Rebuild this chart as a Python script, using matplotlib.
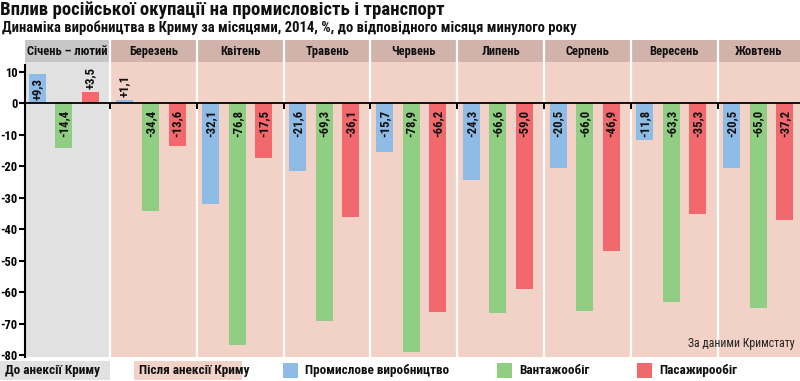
import matplotlib
matplotlib.use("Agg")
import matplotlib.pyplot as plt
from matplotlib import font_manager as fm
from matplotlib.patches import Rectangle

# ---------------- data ----------------
months = ["Січень – лютий", "Березень", "Квітень", "Травень", "Червень",
          "Липень", "Серпень", "Вересень", "Жовтень"]
industry = [9.3, 1.1, -32.1, -21.6, -15.7, -24.3, -20.5, -11.8, -20.5]
freight = [-14.4, -34.4, -76.8, -69.3, -78.9, -66.6, -66.0, -63.3, -65.0]
passenger = [3.5, -13.6, -17.5, -36.1, -66.2, -59.0, -46.9, -35.3, -37.2]
series_names = ["Промислове виробництво", "Вантажообіг", "Пасажирообіг"]
yticks = [10, 0, -10, -20, -30, -40, -50, -60, -70, -80]
title = "Вплив російської окупації на промисловість і транспорт"
subtitle = "Динаміка виробництва в Криму за місяцями, 2014, %, до відповідного місяця минулого року"
period_labels = ["До анексії Криму", "Після анексії Криму"]
source = "За даними Кримстату"

# ---------------- style ----------------
names = {f.name for f in fm.fontManager.ttflist}
FONT = "DejaVu Sans"
for cand in ["Liberation Sans Narrow", "Roboto Condensed", "Open Sans Condensed", "DejaVu Sans"]:
    if cand in names:
        FONT = cand
        break
plt.rcParams["font.family"] = [FONT, "DejaVu Sans"]

C_BLUE = "#8fbce6"
C_GREEN = "#90cf83"
C_RED = "#f1696c"
C_GREY_BODY = "#e1e1e1"
C_GREY_HEAD = "#c6c6c6"
C_PINK_BODY = "#f2d1c6"
C_PINK_HEAD = "#d1b3ab"
colors = [C_BLUE, C_GREEN, C_RED]

fig = plt.figure(figsize=(8, 3.81), dpi=100)
W, H = 800, 381

def fx(px):
    return px / W

def fy(py):
    return 1 - py / H

ax = fig.add_axes([fx(25), fy(357), fx(775), 317 / H])
ymin, ymax = -80.6, 20
head_lo = 13.0
n = len(months)
x0 = 0.0207
ax.set_xlim(x0, x0 + 775 / 86.8)
ax.set_ylim(ymin, ymax)

# panels
for i in range(n):
    body = C_GREY_BODY if i == 0 else C_PINK_BODY
    head = C_GREY_HEAD if i == 0 else C_PINK_HEAD
    ax.add_patch(Rectangle((i, ymin), 1, head_lo - ymin, color=body, lw=0, zorder=0))
    ax.add_patch(Rectangle((i, head_lo), 1, ymax - head_lo, color=head, lw=0, zorder=0))
    cx = (max(i, x0) + min(i + 1, x0 + 775 / 86.8)) / 2
    ax.text(cx, (head_lo + ymax) / 2, months[i], ha="center", va="center",
            fontsize=9, fontweight="bold", color="#111111", zorder=3)
for b in range(1, n):
    ax.axvline(b, color="white", lw=1.6, zorder=1)

# bars
offsets = [0.163, 0.468, 0.772]
width = 0.196
for s, vals in enumerate([industry, freight, passenger]):
    xs = [i + offsets[s] for i in range(n)]
    ax.bar(xs, vals, width=width, color=colors[s], zorder=2)
    for x, v in zip(xs, vals):
        lab = ("+" if v > 0 else "") + f"{v:.1f}".replace(".", ",")
        if v < 0:
            ax.text(x, -2.2, lab, rotation=90, ha="center", va="top",
                    fontsize=9.2, fontweight="bold", color="#111111", zorder=3)
        elif v >= 9:
            ax.text(x, 1.0, lab, rotation=90, ha="center", va="bottom",
                    fontsize=9.2, fontweight="bold", color="#111111", zorder=3)
        else:
            ax.text(x, v + 0.8, lab, rotation=90, ha="center", va="bottom",
                    fontsize=9.2, fontweight="bold", color="#111111", zorder=3)

# axes styling
for sp in ["top", "right"]:
    ax.spines[sp].set_visible(False)
ax.spines["bottom"].set_position(("data", 0))
ax.spines["bottom"].set_linewidth(1.3)
ax.spines["bottom"].set_zorder(4)
ax.spines["left"].set_linewidth(1.5)
ax.spines["left"].set_bounds(ymin, 12)
ax.set_xticks(range(1, n))
ax.set_xticklabels([])
ax.tick_params(axis="x", direction="out", length=4, width=1.4, color="black")
ax.set_yticks(yticks)
ax.set_yticklabels([str(t) for t in yticks])
ax.tick_params(axis="y", direction="out", length=4, width=1.5, pad=1.5, labelsize=9)
for t in ax.get_yticklabels():
    t.set_fontweight("bold")

ax.text(0.993, -76.2, source, ha="right", va="center", fontsize=8.5, color="#222222",
        zorder=3, transform=ax.get_yaxis_transform())

# titles
fig.text(fx(0), fy(10), title, ha="left", va="center", fontsize=13.5, fontweight="bold", color="#111111")
fig.text(fx(2), fy(28), subtitle, ha="left", va="center", fontsize=10.5, fontweight="bold", color="#111111")

# legend row
fig.patches.append(Rectangle((fx(0), fy(380)), fx(110), 19 / H, transform=fig.transFigure,
                             color=C_GREY_BODY, lw=0))
fig.text(fx(5), fy(370.5), period_labels[0], ha="left", va="center", fontsize=9.5,
         fontweight="bold", color="#111111")
fig.patches.append(Rectangle((fx(134), fy(380)), fx(108), 19 / H, transform=fig.transFigure,
                             color=C_PINK_BODY, lw=0))
fig.text(fx(139), fy(370.5), period_labels[1], ha="left", va="center", fontsize=9.5,
         fontweight="bold", color="#111111")
leg_x = [283, 497, 637]
for s in range(3):
    fig.patches.append(Rectangle((fx(leg_x[s]), fy(378)), fx(15), 15 / H,
                                 transform=fig.transFigure, color=colors[s], lw=0))
    fig.text(fx(leg_x[s] + 22), fy(370.5), series_names[s], ha="left", va="center",
             fontsize=9.5, fontweight="bold", color="#111111")

fig.savefig("out.png", dpi=100)
